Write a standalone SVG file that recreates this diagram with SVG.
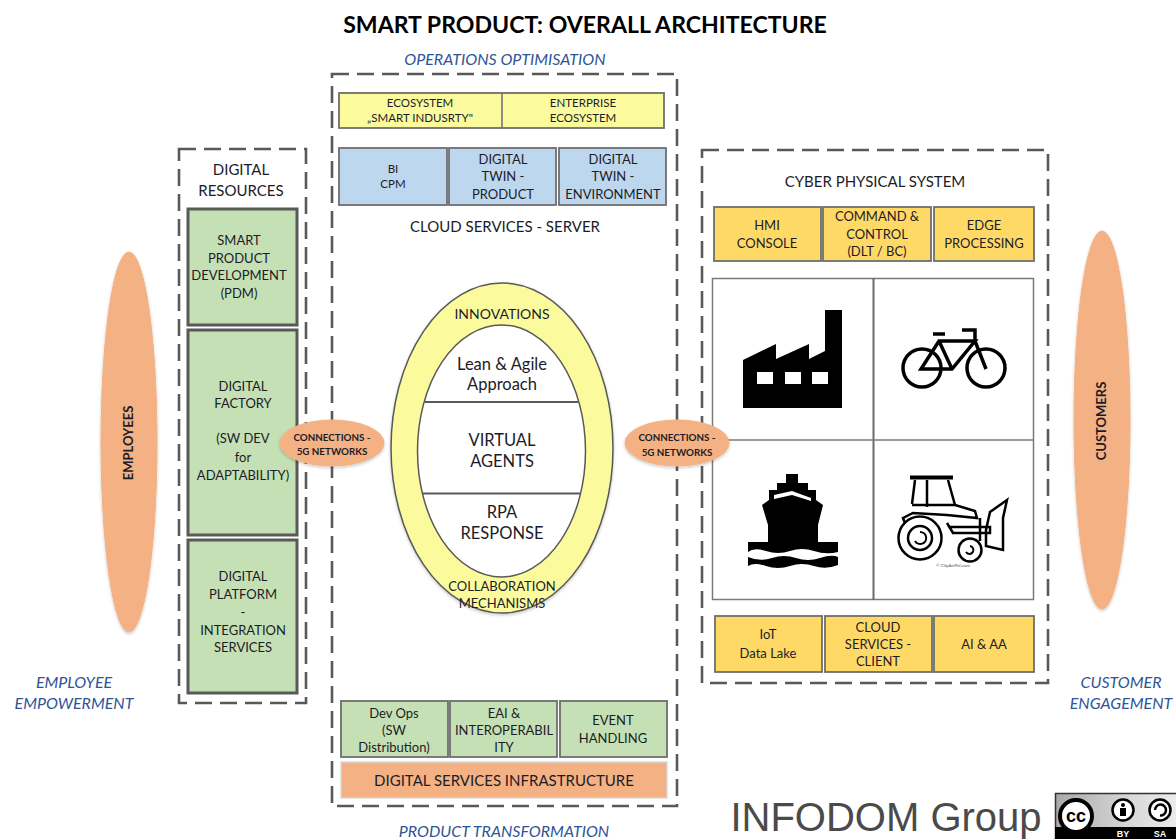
<svg xmlns="http://www.w3.org/2000/svg" width="1176" height="839" viewBox="0 0 1176 839">
<style>
text{font-family:"Lato","Open Sans","Liberation Sans",sans-serif;fill:#1c1c28;text-anchor:middle}
.dash{fill:#fff;stroke:#595959;stroke-width:2.6;stroke-dasharray:17 8}
.box{stroke:#6e6e6e;stroke-width:1.8}
.y{fill:#fbfb9d}.b{fill:#bdd7ee}.g{fill:#c5e0b4}.o{fill:#ffd966}.p{fill:#f4b183}
.gr{fill:#c5e0b4;stroke:#595959;stroke-width:3}
.s{font-size:11.5px}.m{font-size:13px}.l{font-size:16.5px}.c{font-size:15px}
.n{font-size:9.8px;font-weight:700}
.it{font-style:italic;fill:#2f5597;font-size:16px}
.e{fill:#f4b183;stroke:#f4b183}
.bd{font-weight:700}
.lg{font-family:"Liberation Sans",sans-serif}
</style>
<defs><filter id="sh" x="-20%" y="-20%" width="140%" height="140%"><feDropShadow dx="0" dy="1.5" stdDeviation="1.5" flood-color="#000" flood-opacity=".22"/></filter>
<linearGradient id="bg" x1="0" x2="1" y1="0" y2="0"><stop offset="0" stop-color="#a8a8a8"/><stop offset=".6" stop-color="#d8d8d8"/><stop offset="1" stop-color="#eee"/></linearGradient></defs>

<text id="title" x="585" y="33" font-size="23.100" class="bd" style="fill:#000">SMART PRODUCT: OVERALL ARCHITECTURE</text>
<text x="505" y="65" class="it">OPERATIONS OPTIMISATION</text>
<text x="504" y="837" class="it">PRODUCT TRANSFORMATION</text>
<text class="it" x="74" y="688">EMPLOYEE</text><text class="it" x="74" y="709">EMPOWERMENT</text>
<text class="it" x="1121" y="688">CUSTOMER</text><text class="it" x="1121" y="709">ENGAGEMENT</text>

<g id="connectors"></g>

<g id="employees"><ellipse class="e" cx="129" cy="442" rx="28" ry="190" filter="url(#sh)"/><text class="bd" font-size="13" transform="translate(133,443) rotate(-90)">EMPLOYEES</text></g>
<g id="customers"><ellipse class="e" cx="1102" cy="420" rx="28" ry="189" filter="url(#sh)"/><text class="bd" font-size="13" transform="translate(1106,421) rotate(-90)">CUSTOMERS</text></g>

<g id="digital-resources">
<rect class="dash" x="179" y="149" width="127" height="554"/>
<text class="c" x="241" y="175">DIGITAL</text><text class="c" x="241" y="196">RESOURCES</text>
<rect class="gr" x="188" y="209" width="109" height="116"/>
<text class="m" x="239" y="245">SMART</text><text class="m" x="239" y="263">PRODUCT</text><text class="m" x="239" y="280">DEVELOPMENT</text><text class="m" x="239" y="298">(PDM)</text>
<rect class="gr" x="188" y="330" width="109" height="205"/>
<text class="m" x="243" y="391">DIGITAL</text><text class="m" x="243" y="408">FACTORY</text><text class="m" x="243" y="443">(SW DEV</text><text class="m" x="243" y="462">for</text><text class="m" x="243" y="480">ADAPTABILITY)</text>
<rect class="gr" x="188" y="540" width="109" height="153"/>
<text class="m" x="243" y="581">DIGITAL</text><text class="m" x="243" y="599">PLATFORM</text><text class="m" x="243" y="617">-</text><text class="m" x="243" y="635">INTEGRATION</text><text class="m" x="243" y="652">SERVICES</text>
</g>

<g id="center">
<rect class="dash" x="332" y="74" width="345" height="732"/>
<g id="ecosystem">
<rect class="box y" x="339" y="93" width="325" height="35"/><path d="M502 93V128" stroke="#6e6e6e" stroke-width="1.5"/>
<text class="s" x="420" y="107">ECOSYSTEM</text><text class="s" x="420" y="122">„SMART INDUSRTY"</text>
<text class="s" x="583" y="107">ENTERPRISE</text><text class="s" x="583" y="122">ECOSYSTEM</text>
</g>
<g id="cloud">
<rect class="box b" x="339" y="148" width="108" height="57"/><rect class="box b" x="449" y="148" width="107" height="57"/><rect class="box b" x="559" y="148" width="107" height="57"/>
<text class="s" x="393" y="173">BI</text><text class="s" x="393" y="188">CPM</text>
<text class="m" x="503" y="164">DIGITAL</text><text class="m" x="503" y="181">TWIN -</text><text class="m" x="503" y="199">PRODUCT</text>
<text class="m" x="613" y="164">DIGITAL</text><text class="m" x="613" y="181">TWIN -</text><text class="m" x="613" y="199">ENVIRONMENT</text>
<text class="c" x="505" y="232">CLOUD SERVICES - SERVER</text>
</g>
<g id="innovations">
<ellipse cx="502" cy="448" rx="111" ry="165" fill="#fbfb9d" stroke="#595959" stroke-width="1.5" filter="url(#sh)"/>
<ellipse cx="501.500" cy="451" rx="84" ry="126" fill="#fff" stroke="#595959" stroke-width="1.5"/>
<path d="M425 402H578M423 493.500H580" stroke="#595959" stroke-width="2" fill="none"/>
<text style="font-size:14px" x="502" y="319">INNOVATIONS</text>
<text class="l" x="502" y="370">Lean &amp; Agile</text><text class="l" x="502" y="390">Approach</text>
<text class="l" x="502" y="446">VIRTUAL</text><text class="l" x="502" y="467">AGENTS</text>
<text class="l" x="502" y="518">RPA</text><text class="l" x="502" y="539">RESPONSE</text>
<text class="m" x="502" y="591">COLLABORATION</text><text class="m" x="502" y="608">MECHANISMS</text>
</g>
<g id="services">
<rect class="box g" x="341" y="701" width="107" height="56"/><rect class="box g" x="450" y="701" width="107" height="56"/><rect class="box g" x="560" y="701" width="107" height="56"/>
<text class="m" x="394" y="718">Dev Ops</text><text class="m" x="394" y="735">(SW</text><text class="m" x="394" y="752">Distribution)</text>
<text class="m" x="504" y="718">EAI &amp;</text><text class="m" x="504" y="735">INTEROPERABIL</text><text class="m" x="504" y="752">ITY</text>
<text class="m" x="613" y="725">EVENT</text><text class="m" x="613" y="743">HANDLING</text>
<rect x="341" y="762" width="326" height="36" class="p" stroke="#d9d9d9" stroke-width="1.500"/>
<text class="c" x="504" y="786">DIGITAL SERVICES INFRASTRUCTURE</text>
</g>
</g>

<g id="cps">
<rect class="dash" x="702" y="150" width="346" height="533"/>
<text class="c" x="875" y="187">CYBER PHYSICAL SYSTEM</text>
<rect class="box o" x="714" y="207" width="107" height="54"/><rect class="box o" x="823" y="207" width="108" height="54"/><rect class="box o" x="934" y="207" width="100" height="54"/>
<text class="m" x="767" y="230">HMI</text><text class="m" x="767" y="248">CONSOLE</text>
<text class="m" x="877" y="221">COMMAND &amp;</text><text class="m" x="877" y="239">CONTROL</text><text class="m" x="877" y="256">(DLT / BC)</text>
<text class="m" x="984" y="230">EDGE</text><text class="m" x="984" y="248">PROCESSING</text>
<g id="grid">
<rect x="712.500" y="278.500" width="321" height="321" fill="#fff" stroke="#7a7a7a" stroke-width="1.500"/>
<path d="M873.500 278V600" stroke="#6a6a6a" stroke-width="2"/><path d="M712 440H1034" stroke="#7a7a7a" stroke-width="1.500"/>
<g id="factory"><path fill-rule="evenodd" d="M743 360L776 344V359L809 344V359L825 351V310H842V408H743ZM757 372V384H773V372ZM785 372V384H801V372ZM812 372V384H828V372Z"/></g>
<g id="bicycle" fill="none" stroke="#000" stroke-width="3.500"><circle cx="922" cy="368" r="19"/><circle cx="986" cy="368" r="19"/><path d="M921 369H952L975 341H939ZM939 341L952 369M975 341L986 369M933 334H945M962 330H975V341"/></g>
<g id="ship"><path d="M786 474H798V483H808V490H816V500L823 505L818 525V542H838V552Q826 555 814 551T790 551T766 551T748 552V542H768V525L762 505L769 500V490H777V483H786Z"/><path fill="#fff" d="M774 495L792 491L811 498V501L792 495L774 499Z"/><path d="M748 557Q760 562 772 558T796 558T820 558T838 557V565Q826 570 814 566T790 566T766 566T748 566Z"/></g>
<g id="tractor" fill="none" stroke="#000" stroke-width="2.500"><path stroke-width="4" d="M910 477.500H953"/><path d="M915 480L912 504M927 480V507M948 480L955 505L975 511L977 518L947 515L913 513L903 518L905 523M912 505H955"/><circle cx="920" cy="538" r="21.500"/><circle cx="920" cy="538" r="12"/><path d="M920 532A6 6 0 1 1 915 541" stroke-width="2"/><circle cx="970" cy="550" r="11.500"/><path d="M970 546A4 4 0 1 1 966 552" stroke-width="2"/><path d="M947 523L953 533H990V527H950M980 518V541M1007 500L990 512L986 530V546L1003 550V518Z"/></g>
<text x="953" y="567" font-size="4.500" style="fill:#555">© ClipArtPal.com</text>
</g>
<rect class="box o" x="715" y="616" width="107" height="56"/><rect class="box o" x="825" y="616" width="107" height="56"/><rect class="box o" x="934" y="616" width="100" height="56"/>
<text class="m" x="768" y="639">IoT</text><text class="m" x="768" y="658">Data Lake</text>
<text class="m" x="878" y="632">CLOUD</text><text class="m" x="878" y="649">SERVICES -</text><text class="m" x="878" y="666">CLIENT</text>
<text class="m" x="984" y="649">AI &amp; AA</text>
</g>

<g id="conn-left"><ellipse class="e" cx="332" cy="443" rx="52" ry="23" filter="url(#sh)"/><text class="n" x="332" y="441">CONNECTIONS -</text><text class="n" x="332" y="455">5G NETWORKS</text></g>
<g id="conn-right"><ellipse class="e" cx="677" cy="443" rx="52" ry="23" filter="url(#sh)"/><text class="n" x="677" y="441">CONNECTIONS -</text><text class="n" x="677" y="456">5G NETWORKS</text></g>

<g id="logo">
<text x="886" y="830.500" font-size="40" class="lg" style="fill:#4a4a4a">INFODOM Group</text>
<rect x="1055.500" y="793.500" width="125" height="45" fill="url(#bg)" stroke="#333" stroke-width="1.500"/>
<rect x="1055" y="827" width="125" height="12" fill="#000"/>
<circle cx="1076" cy="816" r="16" fill="#fff" stroke="#000" stroke-width="4"/>
<text x="1076" y="822" font-size="18" class="bd lg" style="fill:#000">cc</text>
<circle cx="1123" cy="810" r="10.500" fill="#fff" stroke="#000" stroke-width="2.500"/><circle cx="1123" cy="805" r="2" fill="#000"/><path d="M1120 808H1126V816H1120Z" fill="#000"/>
<circle cx="1160" cy="810" r="10.500" fill="#fff" stroke="#000" stroke-width="2.500"/><path d="M1155 810A5.500 5.500 0 1 1 1160 815.500" fill="none" stroke="#000" stroke-width="2.500"/>
<text x="1123" y="837" font-size="9" class="bd lg" style="fill:#fff">BY</text>
<text x="1160" y="837" font-size="9" class="bd lg" style="fill:#fff">SA</text>
</g>
</svg>
